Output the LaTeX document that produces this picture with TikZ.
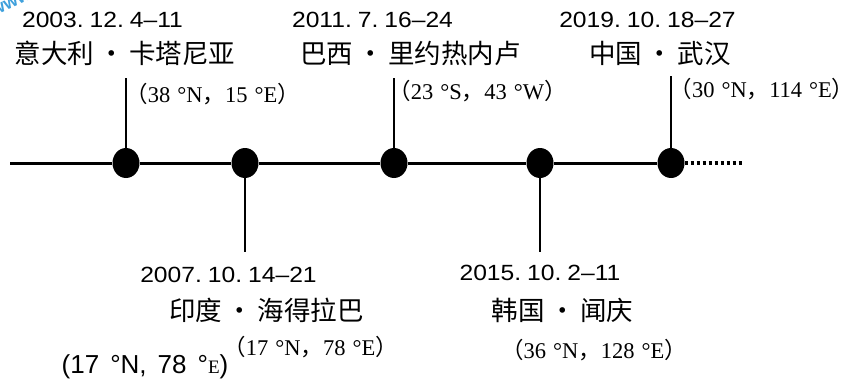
\documentclass[tikz,border=0pt]{standalone}
\usepackage{fontspec}
\setmainfont{Liberation Serif}
\setsansfont{Liberation Sans}
\newfontfamily\cjk{Noto Sans CJK SC}
\newfontfamily\datefont[FakeStretch=1.12]{Liberation Sans}
\usetikzlibrary{shapes.geometric}
\newcommand{\dsp}{\hspace{6pt}}
\newcommand{\csp}{\hspace{7pt}}
\newcommand{\bsp}{\hspace{11pt}}
\begin{document}
\begin{tikzpicture}[x=1pt,y=-1pt,
  dot/.style={ellipse,fill=black,minimum width=27pt,minimum height=30pt,inner sep=0pt},
  datetxt/.style={font=\datefont\fontsize{22}{24}\selectfont,inner sep=0pt},
  placetxt/.style={font=\cjk\fontsize{26.5}{28}\selectfont,inner sep=0pt},
  coordtxt/.style={font=\rmfamily\fontsize{22.5}{24}\selectfont,inner sep=0pt},
  tline/.style={line width=3pt},
  stem/.style={line width=2pt}]
\useasboundingbox (0,0) rectangle (850,385);
% watermark
\node[text=cyan!70!blue,opacity=0.8,font=\sffamily\bfseries\fontsize{18}{20}\selectfont,rotate=25,inner sep=0pt] (wm) at (11,3) {www};
% timeline
\coordinate (start) at (10,163);
\coordinate (tend) at (744,163);
\node[dot] (d1) at (126,163) {};
\node[dot] (d2) at (245,163) {};
\node[dot] (d3) at (394,163) {};
\node[dot] (d4) at (540,163) {};
\node[dot] (d5) at (671,163) {};
\draw[tline] (start) -- (d1) -- (d2) -- (d3) -- (d4) -- (d5);
\draw[line width=3.5pt,dash pattern=on 3pt off 3pt] (d5.east) -- (tend);
% stems
\coordinate (s1) at (126,78);
\coordinate (s2) at (245,252);
\coordinate (s3) at (394,78);
\coordinate (s4) at (540,252);
\coordinate (s5) at (671,76);
\draw[stem] (d1) -- (s1);
\draw[stem] (d2) -- (s2);
\draw[stem] (d3) -- (s3);
\draw[stem] (d4) -- (s4);
\draw[stem] (d5) -- (s5);
% texts
\node[datetxt] (t1) at (102.5,20) {2003.\dsp12.\dsp4–11};
\node[placetxt] (p1) at (125,53) {意大利\,·\,卡塔尼亚};
\node[coordtxt] (c1) at (212.5,94) {{\cjk（}38\csp°N{\cjk，}15\csp°E{\cjk）}};

\node[datetxt] (t3) at (372.5,20) {2011.\dsp7.\dsp16–24};
\node[placetxt] (p3) at (410.5,53) {巴西\,·\,里约热内卢};
\node[coordtxt] (c3) at (477.5,91) {{\cjk（}23\csp°S{\cjk，}43\csp°W{\cjk）}};

\node[datetxt] (t5) at (647.5,20) {2019.\dsp10.\dsp18–27};
\node[placetxt] (p5) at (660,53) {中国\,·\,武汉};
\node[coordtxt] (c5) at (762,89) {{\cjk（}30\csp°N{\cjk，}114\csp°E{\cjk）}};

\node[datetxt] (t2) at (228.5,275) {2007.\dsp10.\dsp14–21};
\node[placetxt] (p2) at (266.5,310) {印度\,·\,海得拉巴};
\node[coordtxt] (c2) at (310.5,347) {{\cjk（}17\csp°N{\cjk，}78\csp°E{\cjk）}};
\node[font=\sffamily\fontsize{26}{28}\selectfont,inner sep=0pt] (c2b) at (145,367) {(17\bsp°N,\bsp78\bsp°{\rmfamily\fontsize{19}{20}\selectfont E})};

\node[datetxt] (t4) at (540,273) {2015.\dsp10.\dsp2–11};
\node[placetxt] (p4) at (562.5,310) {韩国\,·\,闻庆};
\node[coordtxt] (c4) at (594,350) {{\cjk（}36\csp°N{\cjk，}128\csp°E{\cjk）}};
\end{tikzpicture}
\end{document}
